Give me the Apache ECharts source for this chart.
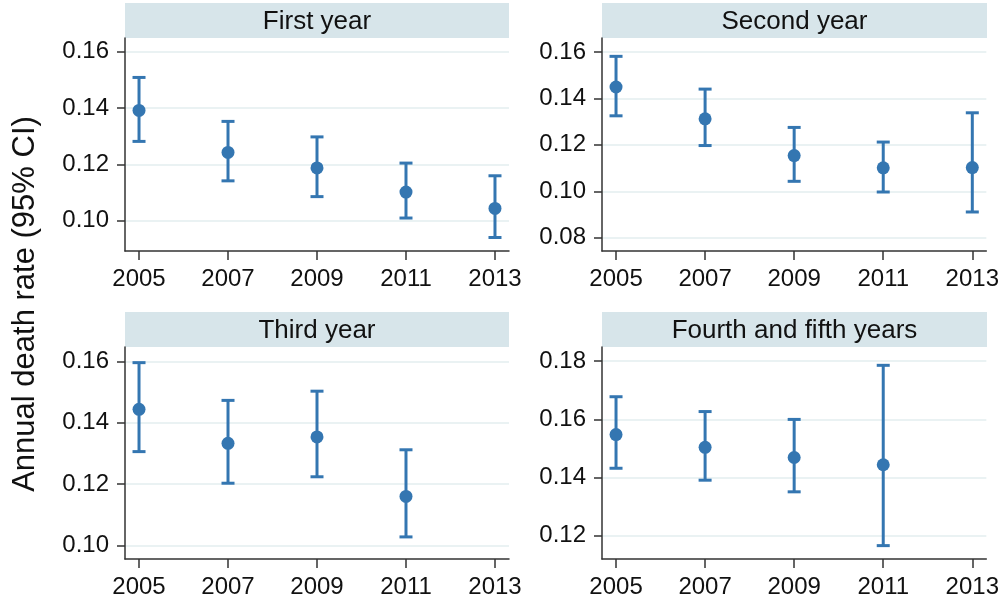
<!DOCTYPE html>
<html>
<head>
<meta charset="utf-8">
<script src="https://cdn.jsdelivr.net/npm/echarts@6/dist/echarts.min.js"></script>
<style>
  html, body { margin: 0; padding: 0; background: #fff; }
  #chart { width: 1002px; height: 604px; }
</style>
</head>
<body>
<div id="chart"></div>
<script>
// ---- data ----
const years = [2005, 2007, 2009, 2011, 2013];
const panelTitles = ['First year', 'Second year', 'Third year', 'Fourth and fifth years'];

const rateFirst = [0.1392, 0.1243, 0.1188, 0.1102, 0.1044];
const lowFirst = [0.1282, 0.1142, 0.1086, 0.1010, 0.0941];
const highFirst = [0.1509, 0.1353, 0.1298, 0.1205, 0.1160];

const rateSecond = [0.1449, 0.1312, 0.1154, 0.1101, 0.1102];
const lowSecond = [0.1325, 0.1197, 0.1043, 0.0997, 0.0911];
const highSecond = [0.1581, 0.1440, 0.1275, 0.1212, 0.1338];

const rateThird = [0.1444, 0.1333, 0.1354, 0.1160, null];
const lowThird = [0.1306, 0.1203, 0.1224, 0.1028, null];
const highThird = [0.1596, 0.1473, 0.1503, 0.1312, null];

const rateFourth = [0.1548, 0.1504, 0.1469, 0.1444, null];
const lowFourth = [0.1432, 0.1391, 0.1351, 0.1166, null];
const highFourth = [0.1678, 0.1627, 0.1600, 0.1786, null];

const yTicks = [
  [0.10, 0.12, 0.14, 0.16],
  [0.08, 0.10, 0.12, 0.14, 0.16],
  [0.10, 0.12, 0.14, 0.16],
  [0.12, 0.14, 0.16, 0.18],
];
const yMin = [0.0893, 0.0743, 0.0956, 0.1120];
const yMax = [0.1649, 0.1660, 0.1647, 0.1849];
const xMin = 2004.685, xMax = 2013.315;

const rates = [rateFirst, rateSecond, rateThird, rateFourth];
const lows = [lowFirst, lowSecond, lowThird, lowFourth];
const highs = [highFirst, highSecond, highThird, highFourth];

// ---- layout ----
const BLUE = '#3476b1';
const AXIS = '#333';
const FONT = '"Liberation Sans", Arial, sans-serif';
const panels = [
  { left: 125, top: 38, width: 384, height: 213 },
  { left: 602, top: 38, width: 385, height: 213 },
  { left: 125, top: 347, width: 384, height: 212 },
  { left: 602, top: 347, width: 385, height: 212 },
];
const HEADER_H = 35;

const chart = echarts.init(document.getElementById('chart'), null, { renderer: 'canvas' });

function renderBar(params, api) {
  const x = api.value(0), lo = api.value(1), hi = api.value(2);
  if (lo == null || hi == null || isNaN(lo) || isNaN(hi)) return null;
  const pLo = api.coord([x, lo]);
  const pHi = api.coord([x, hi]);
  const cap = 6.5;
  const style = { stroke: BLUE, lineWidth: 3 };
  return {
    type: 'group',
    children: [
      { type: 'line', shape: { x1: pLo[0], y1: pLo[1], x2: pHi[0], y2: pHi[1] }, style },
      { type: 'line', shape: { x1: pHi[0] - cap, y1: pHi[1], x2: pHi[0] + cap, y2: pHi[1] }, style },
      { type: 'line', shape: { x1: pLo[0] - cap, y1: pLo[1], x2: pLo[0] + cap, y2: pLo[1] }, style },
    ],
  };
}

const grid = [], xAxis = [], yAxis = [], series = [], graphic = [];

panels.forEach((p, i) => {
  grid.push({ left: p.left, top: p.top, width: p.width, height: p.height, containLabel: false });

  xAxis.push({
    type: 'value', gridIndex: i, min: xMin, max: xMax,
    axisLine: { show: true, onZero: false, lineStyle: { color: AXIS, width: 1.5 } },
    axisTick: { show: true, length: 9, customValues: years, lineStyle: { color: AXIS, width: 1.5 } },
    axisLabel: { customValues: years, margin: 16, color: '#111', fontSize: 24, fontFamily: FONT, formatter: v => String(v) },
    splitLine: { show: false },
  });

  yAxis.push({
    type: 'value', gridIndex: i, min: yMin[i], max: yMax[i],
    axisLine: { show: true, onZero: false, lineStyle: { color: AXIS, width: 1.5 } },
    axisTick: { show: true, length: 8, customValues: yTicks[i], lineStyle: { color: AXIS, width: 1.5 } },
    axisLabel: { customValues: yTicks[i], margin: 16, color: '#111', fontSize: 24, fontFamily: FONT, formatter: v => v.toFixed(2) },
    splitLine: { show: true, lineStyle: { color: '#eaf2f3', width: 2 } },
  });

  const barData = years.map((y, k) => [y, lows[i][k], highs[i][k]]).filter(d => d[1] != null);
  const pointData = years.map((y, k) => [y, rates[i][k]]).filter(d => d[1] != null);

  series.push({
    type: 'custom', xAxisIndex: i, yAxisIndex: i,
    renderItem: renderBar, data: barData, clip: false, z: 3,
    encode: { x: 0, y: [1, 2] },
  });
  series.push({
    type: 'scatter', xAxisIndex: i, yAxisIndex: i,
    data: pointData, symbol: 'circle', symbolSize: 13,
    itemStyle: { color: BLUE, opacity: 1 }, z: 4,
  });

  // panel header strip
  graphic.push({
    type: 'group', left: p.left, top: p.top - HEADER_H,
    children: [
      { type: 'rect', shape: { x: 0, y: 0, width: p.width, height: HEADER_H }, style: { fill: '#d7e5ea' } },
      {
        type: 'text', x: p.width / 2, y: HEADER_H / 2 + 1,
        style: { text: panelTitles[i], fill: '#111', font: '26px ' + FONT, align: 'center', verticalAlign: 'middle' },
      },
    ],
  });
});

// shared y title
graphic.push({
  type: 'text', x: 25, y: 304, rotation: Math.PI / 2,
  style: { text: 'Annual death rate (95% CI)', fill: '#111', font: '31px ' + FONT, align: 'center', verticalAlign: 'middle' },
});

chart.setOption({
  animation: false,
  backgroundColor: '#fff',
  grid, xAxis, yAxis, series, graphic,
});
</script>
</body>
</html>
